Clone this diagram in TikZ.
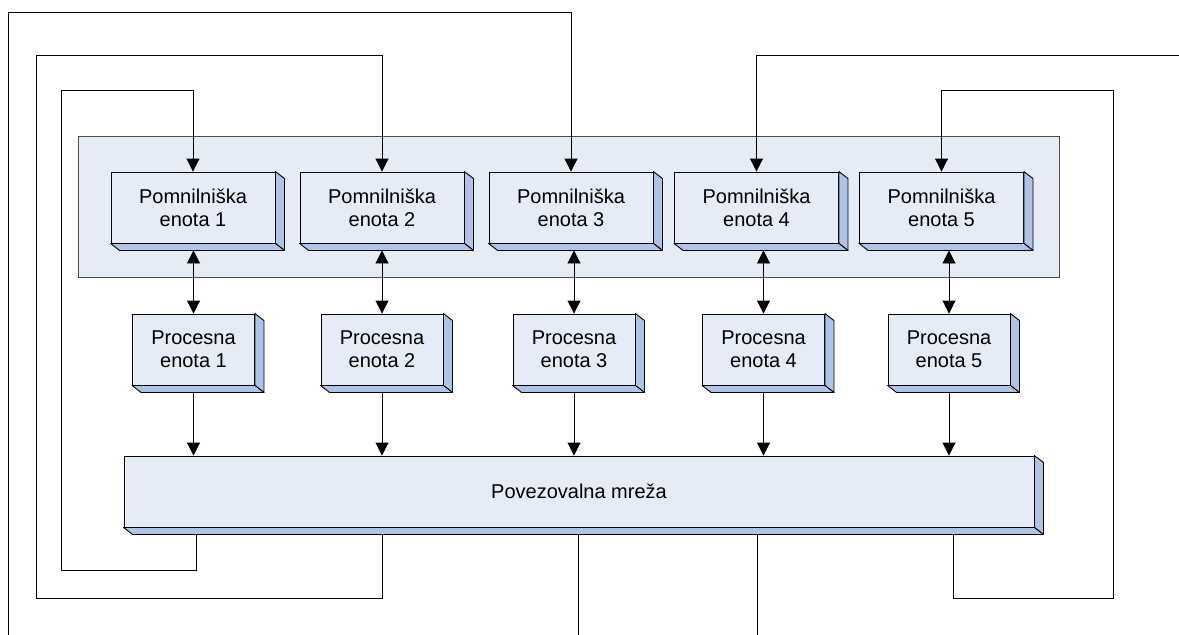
\documentclass[tikz,border=0pt]{standalone}
\usepackage{fontspec}
\setmainfont{Liberation Sans}
\usetikzlibrary{arrows.meta,calc}

\definecolor{faceblue}{RGB}{229,236,247}
\definecolor{sideblue}{RGB}{174,195,229}
\definecolor{groupblue}{RGB}{230,236,246}

% extruded box: front face is the node, side and bottom panels drawn behind
\newcommand{\boxdepth}[1]{%
  \filldraw[panel] (#1.north east) -- ++(9,7) -- ($(#1.south east)+(9,7)$) -- (#1.south east) -- cycle;
  \filldraw[panel] (#1.south west) -- ++(9,7) -- ($(#1.south east)+(9,7)$) -- (#1.south east) -- cycle;
}

\begin{document}
\begin{tikzpicture}[x=1pt,y=-1pt,
  unit/.style={draw=black,fill=faceblue,line width=0.9pt,inner sep=0pt,align=center,
    font=\fontsize{20}{23}\selectfont},
  memunit/.style={unit,minimum width=164pt,minimum height=71pt},
  procunit/.style={unit,minimum width=122pt,minimum height=71pt},
  panel/.style={draw=black,fill=sideblue,line width=0.9pt,line join=round},
  wire/.style={draw=black,line width=0.9pt},
  tip/.style={Triangle[length=13pt,width=13pt]},
  arr/.style={wire,-{Triangle[length=13pt,width=13pt]}},
  dbl/.style={wire,{Triangle[length=13pt,width=13pt]}-{Triangle[length=13pt,width=13pt]}},
]
\useasboundingbox (0,0) rectangle (1179,635);

% memory group background
\node[draw=black!70,fill=groupblue,line width=0.8pt,minimum width=981pt,minimum height=141pt,inner sep=0pt]
  (group) at (568.5,206.5) {};

% memory units
\node[memunit] (m1) at (193,207.5) {Pomnilniška\\enota 1};
\node[memunit] (m2) at (382,207.5) {Pomnilniška\\enota 2};
\node[memunit] (m3) at (571,207.5) {Pomnilniška\\enota 3};
\node[memunit] (m4) at (756.5,207.5) {Pomnilniška\\enota 4};
\node[memunit] (m5) at (941.5,207.5) {Pomnilniška\\enota 5};

% processing units
\node[procunit] (p1) at (193.5,349.5) {Procesna\\enota 1};
\node[procunit] (p2) at (382,349.5) {Procesna\\enota 2};
\node[procunit] (p3) at (574,349.5) {Procesna\\enota 3};
\node[procunit] (p4) at (763.5,349.5) {Procesna\\enota 4};
\node[procunit] (p5) at (949,349.5) {Procesna\\enota 5};

% interconnection network
\node[unit,minimum width=910pt,minimum height=71pt] (net) at (579,491.5) {Povezovalna mreža};

\foreach \n in {m1,m2,m3,m4,m5,p1,p2,p3,p4,p5,net} {\boxdepth{\n}}

% memory <-> processor links
\foreach \i in {1,...,5} {
  \draw[dbl] (p\i.north) -- ($(p\i.north |- m\i.south)+(0,7)$);
  \draw[arr] ($(p\i.south)+(0,7)$) -- (p\i.south |- net.north);
}

% network outlets and free ends
\coordinate (o1) at (196,534);
\coordinate (o2) at (382,534);
\coordinate (o3) at (578,534);
\coordinate (o4) at (757,534);
\coordinate (o5) at (953,534);
\coordinate (endA) at (8,635);
\coordinate (endD) at (1179,55);

% feedback loops from the network to the memory units
\draw[arr] (o1) -- (196,570) -- (61,570) -- (61,90) -- (m1.north |- 0,90) -- (m1.north);
\draw[arr] (o2) -- (382,598) -- (36,598) -- (36,55) -- (m2.north |- 0,55) -- (m2.north);
\draw[arr] (endA) -- (8,12) -- (m3.north |- 0,12) -- (m3.north);
\draw[wire] (o3) -- (578,635);
\draw[arr] (endD) -- (m4.north |- 0,55) -- (m4.north);
\draw[wire] (o4) -- (757,635);
\draw[arr] (o5) -- (953,598) -- (1113,598) -- (1113,90) -- (m5.north |- 0,90) -- (m5.north);
\end{tikzpicture}
\end{document}
